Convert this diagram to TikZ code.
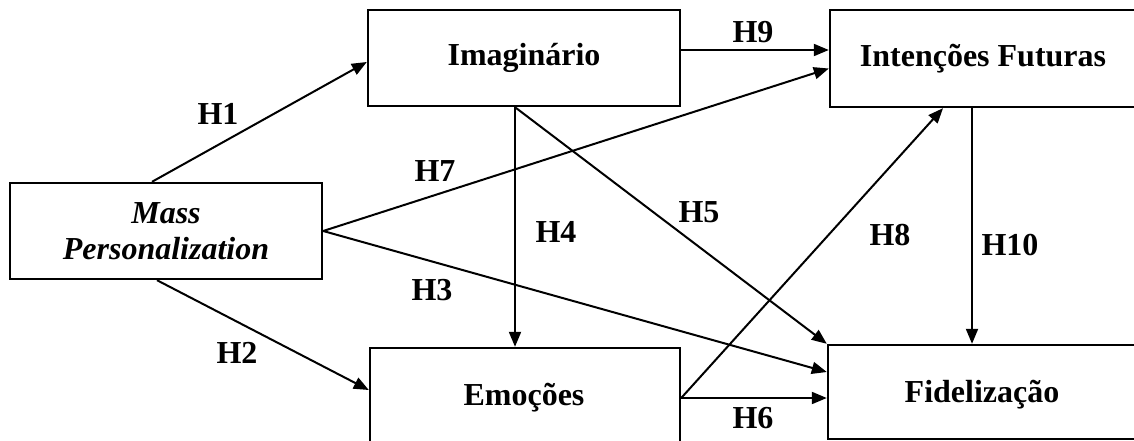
\documentclass[tikz,border=0pt]{standalone}
\usepackage{fontspec}
\setmainfont{Liberation Serif}
\usetikzlibrary{arrows.meta}
\tikzset{
  box/.style={draw, line width=2.4pt, fill=white, inner sep=0pt, align=center,
    font=\fontsize{32}{36}\selectfont\bfseries},
  link/.style={line width=2pt, -{Triangle[length=15pt,width=12pt]}},
  hyp/.style={inner sep=0pt, font=\fontsize{32}{36}\selectfont\bfseries}
}
\begin{document}
\begin{tikzpicture}[x=1pt,y=-1pt]
\useasboundingbox (0,0) rectangle (1134,441);
\clip (0,0) rectangle (1134,441);
\fill[white] (0,0) rectangle (1134,441);

% constructs
\node[box, minimum width=312pt, minimum height=96pt] (mp) at (166,231)
  {\itshape Mass\\[0pt]\itshape Personalization};
\node[box, minimum width=312pt, minimum height=96pt] (im) at (524,58) {Imaginário};
\node[box, minimum width=306pt, minimum height=97pt] (if) at (983,58.5) {Intenções Futuras};
\node[box, minimum width=310pt, minimum height=100pt] (em) at (525,398) {};
\node[hyp] at (524,398) {Emoções};
\node[box, minimum width=308pt, minimum height=94pt] (fi) at (982,392) {};
\node[hyp] at (982,395) {Fidelização};

% hypothesised paths
\draw[link] ([xshift=-14pt]mp.north) -- ([yshift=-4pt]im.west);
\draw[link] ([xshift=-9pt]mp.south) -- ([yshift=8pt]em.west);
\draw[link] (mp.east) -- ([yshift=-10pt]if.west);
\draw[link] (mp.east) -- ([yshift=20pt]fi.west);
\draw[link] ([yshift=8pt]im.east) -- ([yshift=8pt]im.east -| if.west);
\draw[link] ([xshift=-9pt]im.south) -- ([xshift=-9pt]im.south |- em.north);
\draw[link] ([xshift=-9pt]im.south) -- (fi.north west);
\draw[link] (em.east) -- (em.east -| fi.west);
\draw[link] (em.east) -- ([xshift=-40pt]if.south);
\draw[link] ([xshift=-11pt]if.south) -- ([xshift=-11pt]if.south |- fi.north);

% path labels
\node[hyp] (h1) at (218,114) {H1};
\node[hyp] (h2) at (237,353) {H2};
\node[hyp] (h3) at (432,290) {H3};
\node[hyp] (h4) at (556,232) {H4};
\node[hyp] (h5) at (699,212) {H5};
\node[hyp] (h6) at (753,418) {H6};
\node[hyp] (h7) at (435,171) {H7};
\node[hyp] (h8) at (890,235) {H8};
\node[hyp] (h9) at (753,32) {H9};
\node[hyp] (h10) at (1010,245) {H10};
\end{tikzpicture}
\end{document}
